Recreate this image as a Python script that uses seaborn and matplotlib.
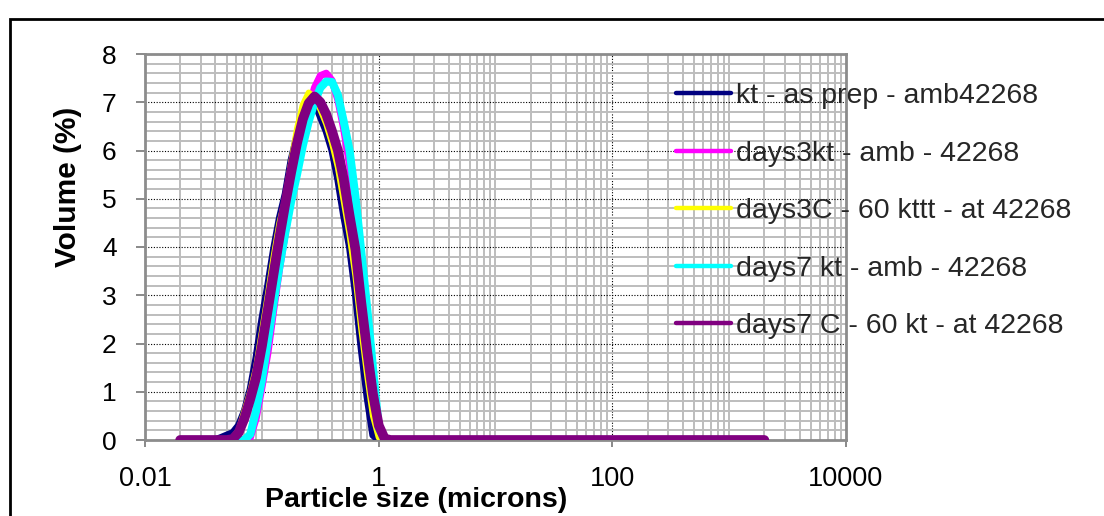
import numpy as np
import pandas as pd
import matplotlib
matplotlib.use("Agg")
import matplotlib.pyplot as plt
import seaborn as sns
from matplotlib.ticker import FixedLocator, FixedFormatter, NullFormatter
from matplotlib.patches import Rectangle

# Particle size bins (microns)
size_um = [0.020, 0.0399, 0.0448, 0.0502, 0.0564, 0.0632, 0.0710, 0.0796, 0.0893,
           0.1002, 0.1125, 0.1262, 0.1416, 0.1589, 0.1783, 0.2000, 0.2244, 0.2518,
           0.2825, 0.3170, 0.3557, 0.3991, 0.4477, 0.5024, 0.5637, 0.6325, 0.7096,
           0.7962, 0.8934, 1.0024, 1.1247, 1.2619, 2000.0]

kt_as_prep = [0.0, 0.0, 0.05, 0.10, 0.15, 0.30, 0.60, 1.05, 1.70, 2.50, 3.20, 3.95,
              4.60, 5.10, 5.80, 6.30, 6.70, 6.95, 7.00, 6.70, 6.40, 6.00, 5.40, 4.65,
              4.00, 3.05, 1.90, 0.90, 0.10, 0.0, 0.0, 0.0, 0.0]
days3kt_amb = [0.0, 0.0, 0.0, 0.0, 0.0, 0.0, 0.0, 0.05, 0.45, 1.10, 1.80, 2.70,
               3.55, 4.30, 5.00, 5.65, 6.30, 6.85, 7.30, 7.55, 7.60, 7.45, 7.05, 6.45,
               5.70, 4.80, 3.70, 2.55, 1.35, 0.20, 0.0, 0.0, 0.0]
days3c_60 = [0.0, 0.0, 0.0, 0.0, 0.05, 0.20, 0.60, 1.00, 1.50, 2.25, 3.00, 3.80,
             4.50, 5.00, 5.75, 6.45, 6.95, 7.20, 7.10, 6.85, 6.55, 6.15, 5.65, 4.95,
             4.25, 3.40, 2.30, 1.35, 0.50, 0.05, 0.0, 0.0, 0.0]
days7kt_amb = [0.0, 0.0, 0.0, 0.0, 0.0, 0.0, 0.0, 0.12, 0.60, 1.25, 2.05, 2.85,
               3.60, 4.30, 4.95, 5.50, 6.10, 6.60, 7.00, 7.30, 7.43, 7.42, 7.15, 6.60,
               6.00, 5.05, 3.90, 2.75, 1.50, 0.25, 0.0, 0.0, 0.0]
days7c_60 = [0.0, 0.0, 0.0, 0.0, 0.02, 0.15, 0.45, 0.85, 1.30, 1.95, 2.70, 3.45,
             4.20, 4.90, 5.55, 6.15, 6.65, 6.98, 7.12, 7.00, 6.75, 6.40, 6.00, 5.40,
             4.65, 3.95, 2.85, 1.85, 0.95, 0.30, 0.03, 0.0, 0.0]

series_labels = ["kt - as prep - amb42268", "days3kt - amb - 42268",
                 "days3C - 60 kttt - at 42268", "days7 kt - amb - 42268",
                 "days7 C - 60 kt - at 42268"]
series_values = [kt_as_prep, days3kt_amb, days3c_60, days7kt_amb, days7c_60]
series_colors = ["#000080", "#FF00FF", "#FFFF00", "#00FFFF", "#800080"]
series_widths = [5.2, 5.2, 4.4, 5.8, 7.0]

x_tick_values = [0.01, 1, 100, 10000]
x_tick_labels = ["0.01", "1", "100", "10000"]
y_tick_values = [0, 1, 2, 3, 4, 5, 6, 7, 8]

sns.set_theme(style="white")
plt.rcParams['font.family'] = ['Liberation Sans', 'DejaVu Sans']

W, H = 1104, 516
fig = plt.figure(figsize=(W / 100, H / 100), dpi=100)
fig.patch.set_facecolor("white")
ax = fig.add_axes([145 / W, 1 - 440 / H, 701 / W, 386 / H])

for vals, lab, col, lw in zip(series_values, series_labels, series_colors, series_widths):
    df = pd.DataFrame({"size": size_um, "vol": vals})
    sns.lineplot(data=df, x="size", y="vol", color=col, linewidth=lw, label=lab,
                 ax=ax, sort=False, estimator=None, zorder=3)

ax.set_xscale("log")
ax.set_xlim(0.01, 10000)
ax.set_ylim(0, 8)

# ticks
ax.xaxis.set_major_locator(FixedLocator(x_tick_values))
ax.xaxis.set_major_formatter(FixedFormatter(x_tick_labels))
minor_x = [m * 10.0 ** e for e in range(-2, 4) for m in range(1, 10)
           if not any(abs(m * 10.0 ** e - t) < 1e-12 for t in x_tick_values)]
ax.xaxis.set_minor_locator(FixedLocator(minor_x))
ax.xaxis.set_minor_formatter(NullFormatter())
ax.yaxis.set_major_locator(FixedLocator(y_tick_values))
minor_y = [round(v * 0.2, 1) for v in range(0, 41) if v % 5 != 0]
ax.yaxis.set_minor_locator(FixedLocator(minor_y))

ax.set_axisbelow(True)
ax.grid(which="minor", color="#BDBDBD", linestyle="-", linewidth=1.4)
ax.grid(which="major", color="black", linestyle=(0, (1, 1.5)), linewidth=0.8)

ax.tick_params(which="minor", length=0)
ax.tick_params(axis="x", which="major", direction="out", length=5, width=1.3,
               color="#808080", pad=14, labelsize=19.5, labelcolor="black", bottom=True)
ax.tick_params(axis="y", which="major", direction="out", length=6.5, width=1.3,
               color="#808080", pad=14, labelsize=19, labelcolor="black", left=True)

for s in ax.spines.values():
    s.set_visible(True)
    s.set_color("#8C8C8C")
    s.set_linewidth(2)

ax.set_xlabel("Particle size (microns)", fontsize=20.5, fontweight="bold", color="black")
ax.set_ylabel("Volume (%)", fontsize=21.5, fontweight="bold", color="black")
ax.xaxis.set_label_coords((416 - 145) / 701, (440 - 487) / 386)
ax.yaxis.set_label_coords((82 - 145) / 701, (440 - 187) / 386)

# legend
handles, labels = ax.get_legend_handles_labels()
leg = ax.legend(handles, labels, loc="upper left",
                bbox_to_anchor=(676 / W, 1 - 83 / H), bbox_transform=fig.transFigure,
                frameon=False, borderpad=0, borderaxespad=0, handlelength=1.93,
                handletextpad=0.18, labelspacing=1.11, fontsize=20.5)
for ln in leg.get_lines():
    ln.set_linewidth(3.2)

# outer chart frame
fig.add_artist(Rectangle((10 / W, -0.1), 1.2, 1 - 19 / H + 0.1,
                         transform=fig.transFigure, fill=False,
                         edgecolor="black", linewidth=2))

fig.savefig("out.png", dpi=100, facecolor="white")
